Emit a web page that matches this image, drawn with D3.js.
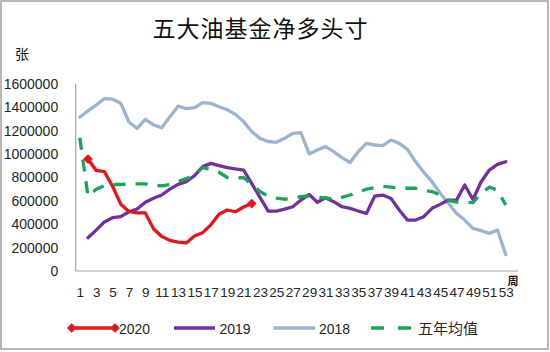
<!DOCTYPE html>
<html><head><meta charset="utf-8">
<script src="https://cdn.jsdelivr.net/npm/d3@7/dist/d3.min.js"></script>
<style>
html,body{margin:0;padding:0;background:#fff;}
svg{display:block;}
</style></head>
<body><svg id="c" width="550" height="352"></svg>
<script>
const weeks = [1,2,3,4,5,6,7,8,9,10,11,12,13,14,15,16,17,18,19,20,21,22,23,24,25,26,27,28,29,30,31,32,33,34,35,36,37,38,39,40,41,42,43,44,45,46,47,48,49,50,51,52,53,54];
const xTickLabels = [1,3,5,7,9,11,13,15,17,19,21,23,25,27,29,31,33,35,37,39,41,43,45,47,49,51,53];
const yTicks = [0,200000,400000,600000,800000,1000000,1200000,1400000,1600000];
const seriesNames = ["2020","2019","2018","五年均值"];

const s2020 = [null,958000,860000,850000,725000,572000,510000,497000,497000,362000,295000,262000,248000,240000,300000,328000,395000,485000,522000,507000,548000,577000];
const s2019 = [null,285000,350000,420000,456000,465000,507000,530000,588000,622000,650000,700000,741000,765000,815000,893000,921000,901000,884000,873000,864000,747000,630000,513000,513000,530000,550000,607000,656000,588000,627000,593000,550000,536000,513000,493000,640000,650000,620000,522000,436000,436000,465000,536000,570000,607000,607000,736000,612000,764000,864000,912000,935000];
const s2018 = [1315000,1370000,1420000,1475000,1470000,1435000,1275000,1220000,1298000,1250000,1226000,1320000,1410000,1390000,1397000,1440000,1435000,1406000,1380000,1340000,1278000,1192000,1135000,1108000,1101000,1135000,1178000,1183000,1002000,1035000,1064000,1021000,970000,928000,1021000,1092000,1078000,1072000,1121000,1092000,1040000,935000,844000,764000,665000,579000,493000,436000,365000,345000,322000,351000,140000];
const s5yr = [1140000,640000,700000,730000,740000,740000,745000,745000,745000,735000,728000,740000,765000,790000,825000,885000,870000,845000,800000,795000,800000,740000,680000,640000,624000,614000,620000,636000,642000,632000,625000,613000,630000,650000,675000,700000,712000,725000,718000,708000,708000,708000,690000,680000,650000,605000,590000,590000,585000,665000,718000,690000,565000];

const colors = {"2020":"#e8141c","2019":"#7030a0","2018":"#9db3d0","五年均值":"#1fa25a"};

const svg = d3.select("#c");
const L = 75.7, R = 518, T = 84, B = 271;

svg.append("rect").attr("x",1).attr("y",1).attr("width",547).attr("height",348)
  .attr("fill","#fff").attr("stroke","#a0a0a0").attr("stroke-width",1.5);

const x = d3.scalePoint().domain(weeks).range([L,R]).padding(0.5);
const y = d3.scaleLinear().domain([0,1600000]).range([B,T]);

// title
svg.append("text").attr("x",260.5).attr("y",37).attr("text-anchor","middle")
  .attr("font-family","'Noto Sans CJK SC'").attr("font-size",23).attr("letter-spacing",1)
  .attr("fill","#111").text("五大油基金净多头寸");
svg.append("text").attr("x",22).attr("y",59).attr("text-anchor","middle")
  .attr("font-family","'Noto Sans CJK SC'").attr("font-size",14).attr("fill","#111").text("张");
svg.append("text").attr("x",513).attr("y",284.5).attr("text-anchor","middle")
  .attr("font-family","'Noto Sans CJK SC'").attr("font-size",11).attr("font-weight","bold").attr("fill","#111").text("周");

// axes
const yAxis = d3.axisLeft(y).tickValues(yTicks).tickSize(0).tickPadding(0).tickFormat(d3.format("d"));
const gy = svg.append("g").attr("transform",`translate(${L-17.5},0)`).call(yAxis);
gy.select(".domain").remove();
gy.selectAll("text").attr("font-family","'Liberation Sans', Arial, sans-serif").attr("font-size",14).attr("fill","#262626");

const xAxis = d3.axisBottom(x).tickValues(xTickLabels).tickSize(0).tickPadding(0);
const gx = svg.append("g").attr("transform",`translate(0,${B+16.5})`).call(xAxis);
gx.select(".domain").remove();
gx.selectAll("text").attr("font-family","'Liberation Sans', Arial, sans-serif").attr("font-size",13.5).attr("fill","#262626");

svg.append("line").attr("x1",L).attr("x2",L).attr("y1",T).attr("y2",B).attr("stroke","#a6a6a6").attr("stroke-width",1.2);
svg.append("line").attr("x1",L).attr("x2",R).attr("y1",B).attr("y2",B).attr("stroke","#a6a6a6").attr("stroke-width",1.2);

const line = d3.line().defined(d=>d!=null).x((d,i)=>x(weeks[i])).y(d=>y(d));

function draw(data, name, dash){
  svg.append("path").datum(data).attr("d",line).attr("fill","none")
    .attr("stroke",colors[name]).attr("stroke-width",3.3)
    .attr("stroke-linejoin","round").attr("stroke-linecap", dash ? "butt" : "round")
    .attr("stroke-dasharray", dash || null);
}
draw(s2018,"2018");
draw(s2019,"2019");
draw(s5yr,"五年均值","12,10");
draw(s2020,"2020");

const diamond = d3.symbol().type(d3.symbolDiamond2).size(60);
function marker(cx, cy){
  svg.append("path").attr("d",diamond).attr("transform",`translate(${cx},${cy})`).attr("fill",colors["2020"]);
}
const firstIdx = s2020.findIndex(d=>d!=null), lastIdx = s2020.length-1;
marker(x(weeks[firstIdx]), y(s2020[firstIdx]));
marker(x(weeks[lastIdx]), y(s2020[lastIdx]));

// legend
const ly = 328;
const items = [
  {name:"2020", x1:71.7, x2:115, tx:119},
  {name:"2019", x1:174, x2:215, tx:219.5},
  {name:"2018", x1:273.3, x2:315, tx:319},
  {name:"五年均值", x1:371, x2:413, tx:418}
];
items.forEach(it=>{
  const g = svg.append("g");
  g.append("line").attr("x1",it.x1).attr("x2",it.x2).attr("y1",ly).attr("y2",ly)
    .attr("stroke",colors[it.name]).attr("stroke-width",3.3)
    .attr("stroke-dasharray", it.name==="五年均值" ? "13,14" : null);
  if(it.name==="2020"){
    [it.x1,it.x2].forEach(cx=>g.append("path").attr("d",diamond).attr("transform",`translate(${cx},${ly})`).attr("fill",colors["2020"]));
  }
  const isCJK = /[^\x00-\x7f]/.test(it.name);
  g.append("text").attr("x",it.tx).attr("y",ly+5.5)
    .attr("font-family", isCJK ? "'Noto Sans CJK SC'" : "'Liberation Sans', Arial, sans-serif")
    .attr("font-size", isCJK ? 15 : 14).attr("fill","#262626").text(it.name);
});
</script></body></html>
